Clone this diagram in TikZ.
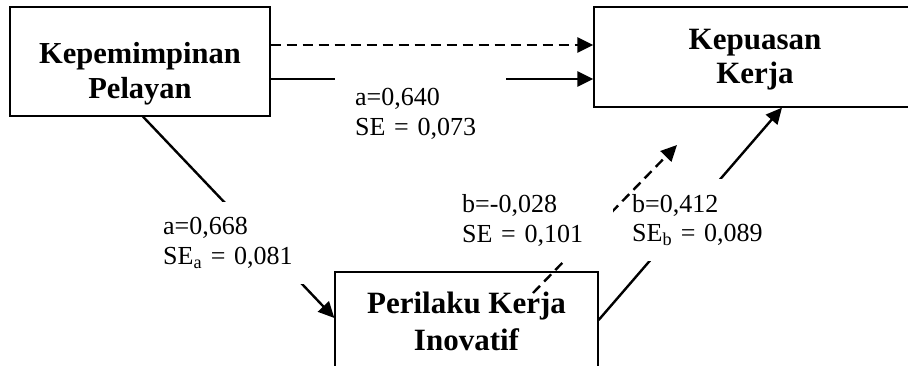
\documentclass[tikz,border=0pt]{standalone}
\usepackage{fontspec}
\setmainfont{Liberation Serif}
\usetikzlibrary{arrows.meta}

\begin{document}
\begin{tikzpicture}[x=1pt,y=-1pt,
  box/.style={draw, line width=1.3pt, fill=white, inner sep=0pt},
  boxtext/.style={align=center, inner sep=0pt, anchor=north},
  stat/.style={font=\fontsize{26}{29.5}\selectfont, align=left, fill=white,
               anchor=north west},
  link/.style={line width=2.4pt, -{Triangle[length=16pt,width=15pt]}},
  dashlink/.style={link, dash pattern=on 10pt off 6pt}
]
\useasboundingbox (0,0) rectangle (908,365);
\clip (0,0) rectangle (908,365);

% variable boxes
\node[box, minimum width=260pt, minimum height=109pt] (box1) at (140,61.5) {};
\node[boxtext, font=\fontsize{30.5}{35}\selectfont\bfseries] (txt1) at (140,42)
  {Kepemimpinan\\Pelayan};

\node[box, minimum width=322pt, minimum height=100pt] (box2) at (755,57) {};
\node[boxtext, font=\fontsize{31}{34}\selectfont\bfseries] (txt2) at (755,29)
  {Kepuasan\\Kerja};

\node[box, minimum width=263pt, minimum height=120pt] (box3) at (466.5,332) {};
\node[boxtext, font=\fontsize{31}{37}\selectfont\bfseries] (txt3) at (466.5,292)
  {Perilaku Kerja\\Inovatif};

% connector end points that are not node anchors
\coordinate (dashTail) at (533,293);
\coordinate (dashTip) at (677,145);

% direct effect, total and direct paths
\draw[dashlink] (box1.east |- 0,45) -- (box2.west |- 0,45);
\draw[link] (box1.east |- 0,79) -- (box2.west |- 0,79);
\node[stat, inner xsep=20pt, inner ysep=12.4pt, text width=131pt] (statA) at (335,76)
  {a=0,640\\SE = 0,073};

% path a
\draw[link] (box1.south -| 143,0) -- (box3.west |- 0,318);
\node[stat, inner xsep=10pt, inner ysep=16pt, text width=150pt] (statB) at (153,201.4)
  {a=0,668\\SE\textsubscript{a} = 0,081};

% path b
\draw[link] (box3.east |- 0,320) -- (box2.south -| 782,0);
\node[stat, inner xsep=8pt, inner ysep=15pt, text width=140pt] (statD) at (624,179)
  {b=0,412\\SE\textsubscript{b} = 0,089};

% path b (not significant)
\draw[dashlink] (dashTail) -- (dashTip);
\node[stat, inner xsep=10pt, inner ysep=14pt, text width=141pt] (statC) at (452,180.4)
  {b=-0,028\\SE = 0,101};
\end{tikzpicture}
\end{document}
